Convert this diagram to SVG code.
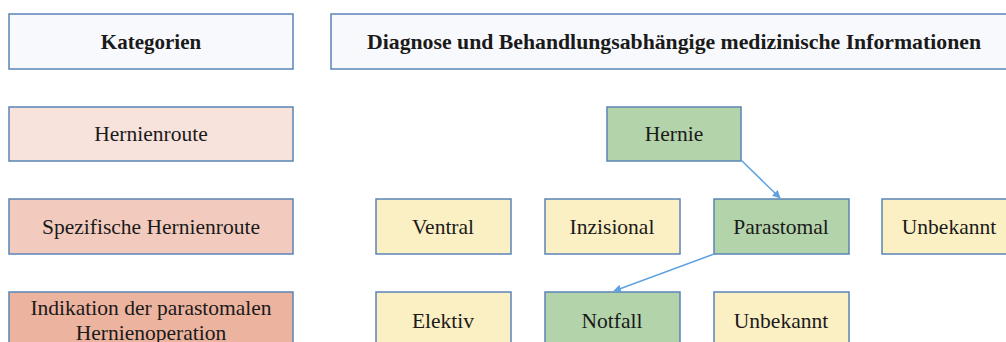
<svg xmlns="http://www.w3.org/2000/svg" width="1006" height="342" viewBox="0 0 1006 342">
<defs>
<style>
.b{stroke:#5b84b6;stroke-width:1.5}
.h{fill:#f8f9fc}
.r1{fill:#f8e3dc}
.r2{fill:#f2cbbe}
.r3{fill:#ecb39f}
.g{fill:#b3d3aa}
.y{fill:#fbefc4}
text{font-family:"Liberation Serif","DejaVu Serif",serif;font-size:21.5px;fill:#1a1a1a;text-anchor:middle}
.t{font-weight:bold;font-size:21px}
.c{stroke:#5fa2e0;stroke-width:1.5;fill:none}
</style>
<marker id="ah" viewBox="0 0 10 10" refX="9" refY="5" markerWidth="8" markerHeight="8" orient="auto" markerUnits="userSpaceOnUse">
<path d="M0,0 L10,5 L0,10 z" fill="#5fa2e0"/>
</marker>
</defs>
<rect width="1006" height="342" fill="#ffffff"/>
<g id="kategorien"><rect class="b h" x="9" y="14" width="284" height="55"/><text class="t" x="151" y="49">Kategorien</text></g>
<g id="diagnose"><rect class="b h" x="331" y="14" width="680" height="55"/><text class="t" x="674" y="49" textLength="614" lengthAdjust="spacingAndGlyphs">Diagnose und Behandlungsabhängige medizinische Informationen</text></g>
<g id="hernienroute"><rect class="b r1" x="9" y="107" width="284" height="54"/><text x="151" y="141">Hernienroute</text></g>
<g id="spezifische"><rect class="b r2" x="9" y="199" width="284" height="55"/><text x="151" y="234">Spezifische Hernienroute</text></g>
<g id="indikation"><rect class="b r3" x="9" y="292" width="284" height="60"/><text x="151" y="315">Indikation der parastomalen</text><text x="151" y="340">Hernienoperation</text></g>
<g id="hernie"><rect class="b g" x="607" y="107" width="134" height="54"/><text x="674" y="141">Hernie</text></g>
<g id="ventral"><rect class="b y" x="376" y="199" width="135" height="55"/><text x="443" y="234">Ventral</text></g>
<g id="inzisional"><rect class="b y" x="545" y="199" width="135" height="55"/><text x="612" y="234">Inzisional</text></g>
<g id="parastomal"><rect class="b g" x="714" y="199" width="135" height="55"/><text x="781" y="234">Parastomal</text></g>
<g id="unbekannt1"><rect class="b y" x="882" y="199" width="135" height="55"/><text x="949" y="234">Unbekannt</text></g>
<g id="elektiv"><rect class="b y" x="376" y="292" width="135" height="60"/><text x="443" y="328">Elektiv</text></g>
<g id="notfall"><rect class="b g" x="545" y="292" width="135" height="60"/><text x="612" y="328">Notfall</text></g>
<g id="unbekannt2"><rect class="b y" x="714" y="292" width="135" height="60"/><text x="781" y="328">Unbekannt</text></g>
<g id="connectors">
<line class="c" x1="741" y1="160" x2="780" y2="198" marker-end="url(#ah)"/>
<line class="c" x1="714" y1="254" x2="614" y2="291" marker-end="url(#ah)"/>
</g>
</svg>
